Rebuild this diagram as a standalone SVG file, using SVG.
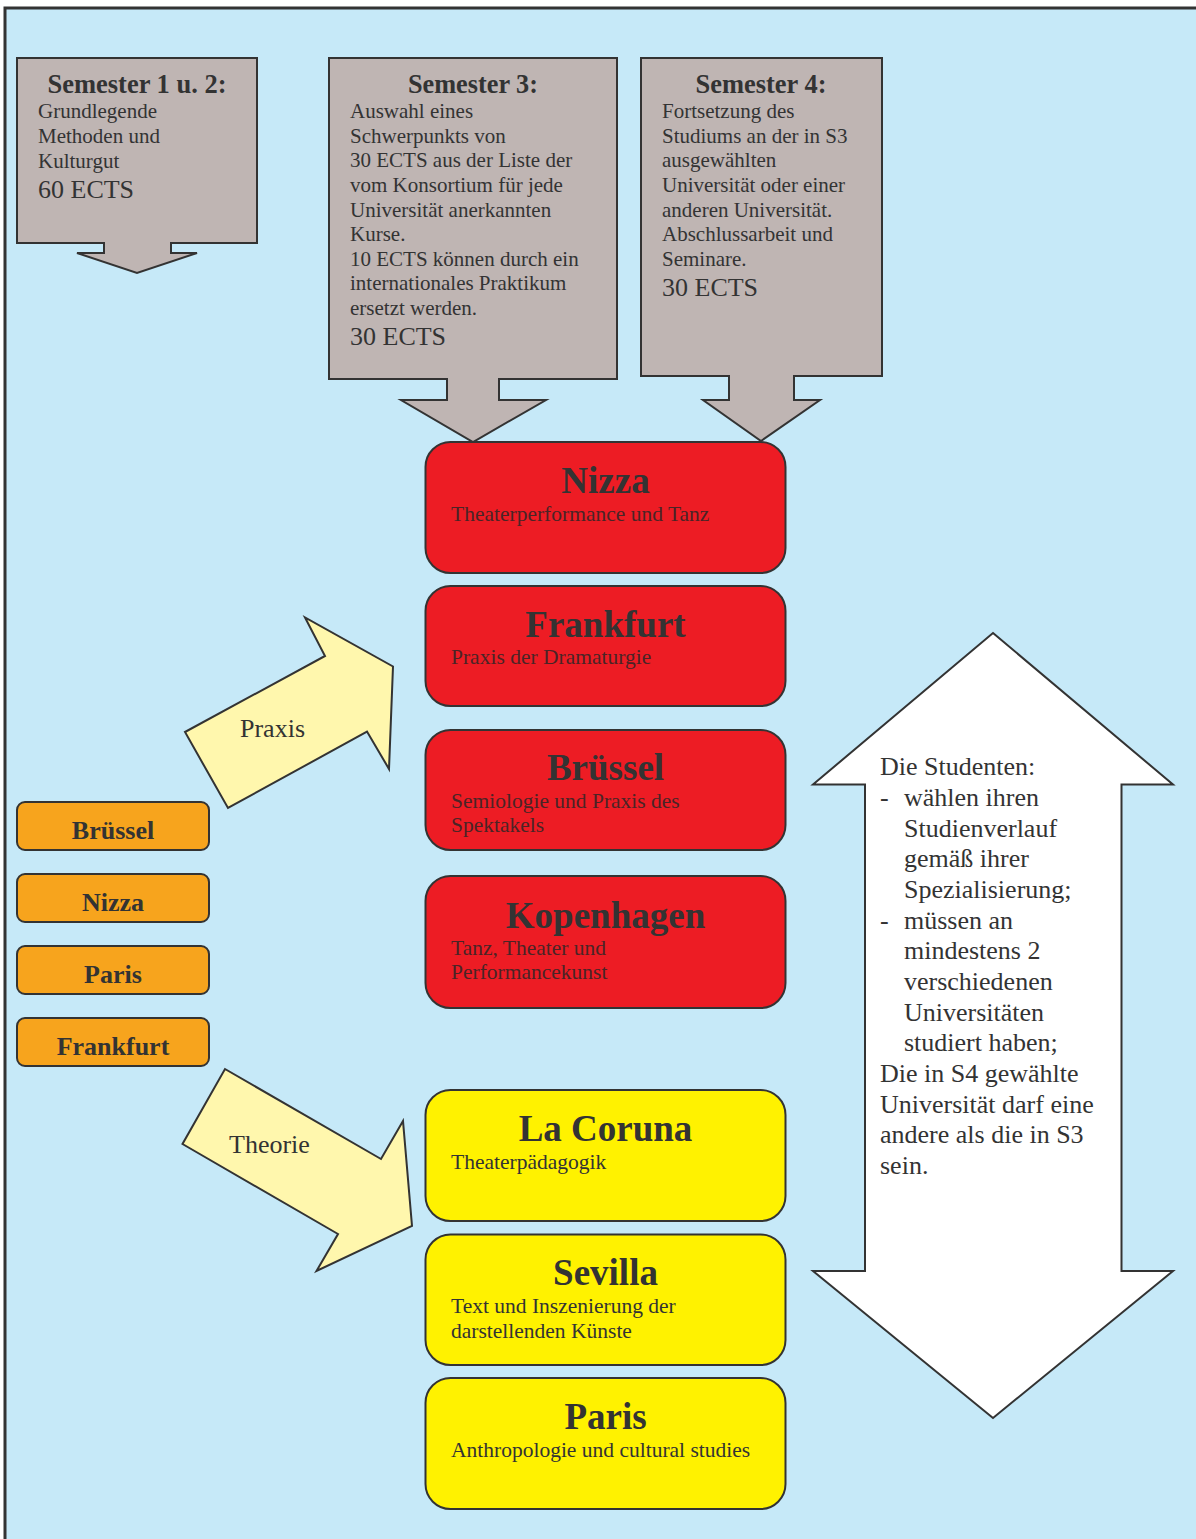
<svg xmlns="http://www.w3.org/2000/svg" width="1196" height="1539" viewBox="0 0 1196 1539">
<style>
.grey{fill:#bfb5b3;stroke:#333;stroke-width:2}
.red{fill:#ed1c24;stroke:#333;stroke-width:2}
.yel{fill:#fff200;stroke:#333;stroke-width:2}
.org{fill:#f7a41d;stroke:#333;stroke-width:2}
.lt{fill:#fff7ad;stroke:#333;stroke-width:2}
.wh{fill:#fff;stroke:#333;stroke-width:2}
text{font-family:"Liberation Serif","Times New Roman",serif;fill:#333}
.st{font-size:27px;font-weight:bold;text-anchor:middle}
.bd{font-size:21px}
.ects{font-size:26px}
.ttl{font-size:37px;font-weight:bold;text-anchor:middle}
.sub{font-size:21.5px;fill:#4a2426}
.subY{font-size:21.5px}
.ob{font-size:26px;font-weight:bold;text-anchor:middle}
.lbl{font-size:26px}
.side{font-size:26px}
</style>
<rect x="5" y="8" width="1195" height="1535" fill="#c6e9f8" stroke="#333" stroke-width="3"/>

<g id="sem12">
<path class="grey" d="M17,58 H257 V243 H171 V253 H197 L137,273 L77,253 H104 V243 H17 Z"/>
<text class="st" x="137" y="93" textLength="179" lengthAdjust="spacingAndGlyphs">Semester 1 u. 2:</text>
<text class="bd" x="38" y="118">Grundlegende</text>
<text class="bd" x="38" y="143">Methoden und</text>
<text class="bd" x="38" y="168">Kulturgut</text>
<text class="ects" x="38" y="198">60 ECTS</text>
</g>

<g id="sem3">
<path class="grey" d="M329,58 H617 V379 H499 V400 H546 L473,442 L401,400 H447 V379 H329 Z"/>
<text class="st" x="473" y="93" textLength="130" lengthAdjust="spacingAndGlyphs">Semester 3:</text>
<text class="bd" x="350" y="118">Auswahl eines</text>
<text class="bd" x="350" y="143">Schwerpunkts von</text>
<text class="bd" x="350" y="167">30 ECTS aus der Liste der</text>
<text class="bd" x="350" y="192">vom Konsortium für jede</text>
<text class="bd" x="350" y="217">Universität anerkannten</text>
<text class="bd" x="350" y="241">Kurse.</text>
<text class="bd" x="350" y="266">10 ECTS können durch ein</text>
<text class="bd" x="350" y="290">internationales Praktikum</text>
<text class="bd" x="350" y="315">ersetzt werden.</text>
<text class="ects" x="350" y="345">30 ECTS</text>
</g>

<g id="sem4">
<path class="grey" d="M641,58 H882 V376 H794 V400 H820 L761,441 L703,400 H729 V376 H641 Z"/>
<text class="st" x="761" y="93" textLength="131" lengthAdjust="spacingAndGlyphs">Semester 4:</text>
<text class="bd" x="662" y="118">Fortsetzung des</text>
<text class="bd" x="662" y="143">Studiums an der in S3</text>
<text class="bd" x="662" y="167">ausgewählten</text>
<text class="bd" x="662" y="192">Universität oder einer</text>
<text class="bd" x="662" y="217">anderen Universität.</text>
<text class="bd" x="662" y="241">Abschlussarbeit und</text>
<text class="bd" x="662" y="266">Seminare.</text>
<text class="ects" x="662" y="296">30 ECTS</text>
</g>

<g id="nizza">
<rect class="red" x="425.5" y="442" width="360" height="131" rx="25"/>
<text class="ttl" x="605.5" y="493">Nizza</text>
<text class="sub" x="451" y="521">Theaterperformance und Tanz</text>
</g>
<g id="frankfurt">
<rect class="red" x="425.5" y="586" width="360" height="120" rx="25"/>
<text class="ttl" x="605.5" y="637">Frankfurt</text>
<text class="sub" x="451" y="664">Praxis der Dramaturgie</text>
</g>
<g id="bruessel">
<rect class="red" x="425.5" y="730" width="360" height="120" rx="25"/>
<text class="ttl" x="605.5" y="780">Brüssel</text>
<text class="sub" x="451" y="808">Semiologie und Praxis des</text>
<text class="sub" x="451" y="832">Spektakels</text>
</g>
<g id="kopenhagen">
<rect class="red" x="425.5" y="876" width="360" height="132" rx="25"/>
<text class="ttl" x="605.5" y="928">Kopenhagen</text>
<text class="sub" x="451" y="955">Tanz, Theater und</text>
<text class="sub" x="451" y="979">Performancekunst</text>
</g>

<g id="lacoruna">
<rect class="yel" x="425.5" y="1090" width="360" height="131" rx="25"/>
<text class="ttl" x="605.5" y="1141">La Coruna</text>
<text class="subY" x="451" y="1169">Theaterpädagogik</text>
</g>
<g id="sevilla">
<rect class="yel" x="425.5" y="1234.5" width="360" height="130.5" rx="25"/>
<text class="ttl" x="605.5" y="1285">Sevilla</text>
<text class="subY" x="451" y="1313">Text und Inszenierung der</text>
<text class="subY" x="451" y="1338">darstellenden Künste</text>
</g>
<g id="paris">
<rect class="yel" x="425.5" y="1378" width="360" height="131" rx="25"/>
<text class="ttl" x="605.5" y="1429">Paris</text>
<text class="subY" x="451" y="1457">Anthropologie und cultural studies</text>
</g>

<g id="o-bruessel">
<rect class="org" x="17" y="802" width="192" height="48" rx="8"/>
<text class="ob" x="113" y="839">Brüssel</text>
</g>
<g id="o-nizza">
<rect class="org" x="17" y="874" width="192" height="48" rx="8"/>
<text class="ob" x="113" y="911">Nizza</text>
</g>
<g id="o-paris">
<rect class="org" x="17" y="946" width="192" height="48" rx="8"/>
<text class="ob" x="113" y="983">Paris</text>
</g>
<g id="o-frankfurt">
<rect class="org" x="17" y="1018" width="192" height="48" rx="8"/>
<text class="ob" x="113" y="1055">Frankfurt</text>
</g>

<g id="connectors">
<g id="praxis">
<polygon class="lt" points="185,732 325,656 305,617.5 393,666.5 389,769 367,731.6 228,808"/>
<text class="lbl" x="240" y="737">Praxis</text>
</g>
<g id="theorie">
<polygon class="lt" points="225,1069 381,1159 403,1121 412,1226 316.5,1271 338,1234 182.5,1144"/>
<text class="lbl" x="229" y="1153">Theorie</text>
</g>
</g>

<g id="studenten">
<polygon class="wh" points="993,633 1173,784.5 1121.5,784.5 1121.5,1271 1173,1271 993,1418 813,1271 865,1271 865,784.5 813,784.5"/>
<text class="side" x="880" y="775">Die Studenten:</text>
<text class="side" x="880" y="806">-</text>
<text class="side" x="904" y="806">wählen ihren</text>
<text class="side" x="904" y="837">Studienverlauf</text>
<text class="side" x="904" y="867">gemäß ihrer</text>
<text class="side" x="904" y="898">Spezialisierung;</text>
<text class="side" x="880" y="929">-</text>
<text class="side" x="904" y="929">müssen an</text>
<text class="side" x="904" y="959">mindestens 2</text>
<text class="side" x="904" y="990">verschiedenen</text>
<text class="side" x="904" y="1021">Universitäten</text>
<text class="side" x="904" y="1051">studiert haben;</text>
<text class="side" x="880" y="1082">Die in S4 gewählte</text>
<text class="side" x="880" y="1113">Universität darf eine</text>
<text class="side" x="880" y="1143">andere als die in S3</text>
<text class="side" x="880" y="1174">sein.</text>
</g>
</svg>
